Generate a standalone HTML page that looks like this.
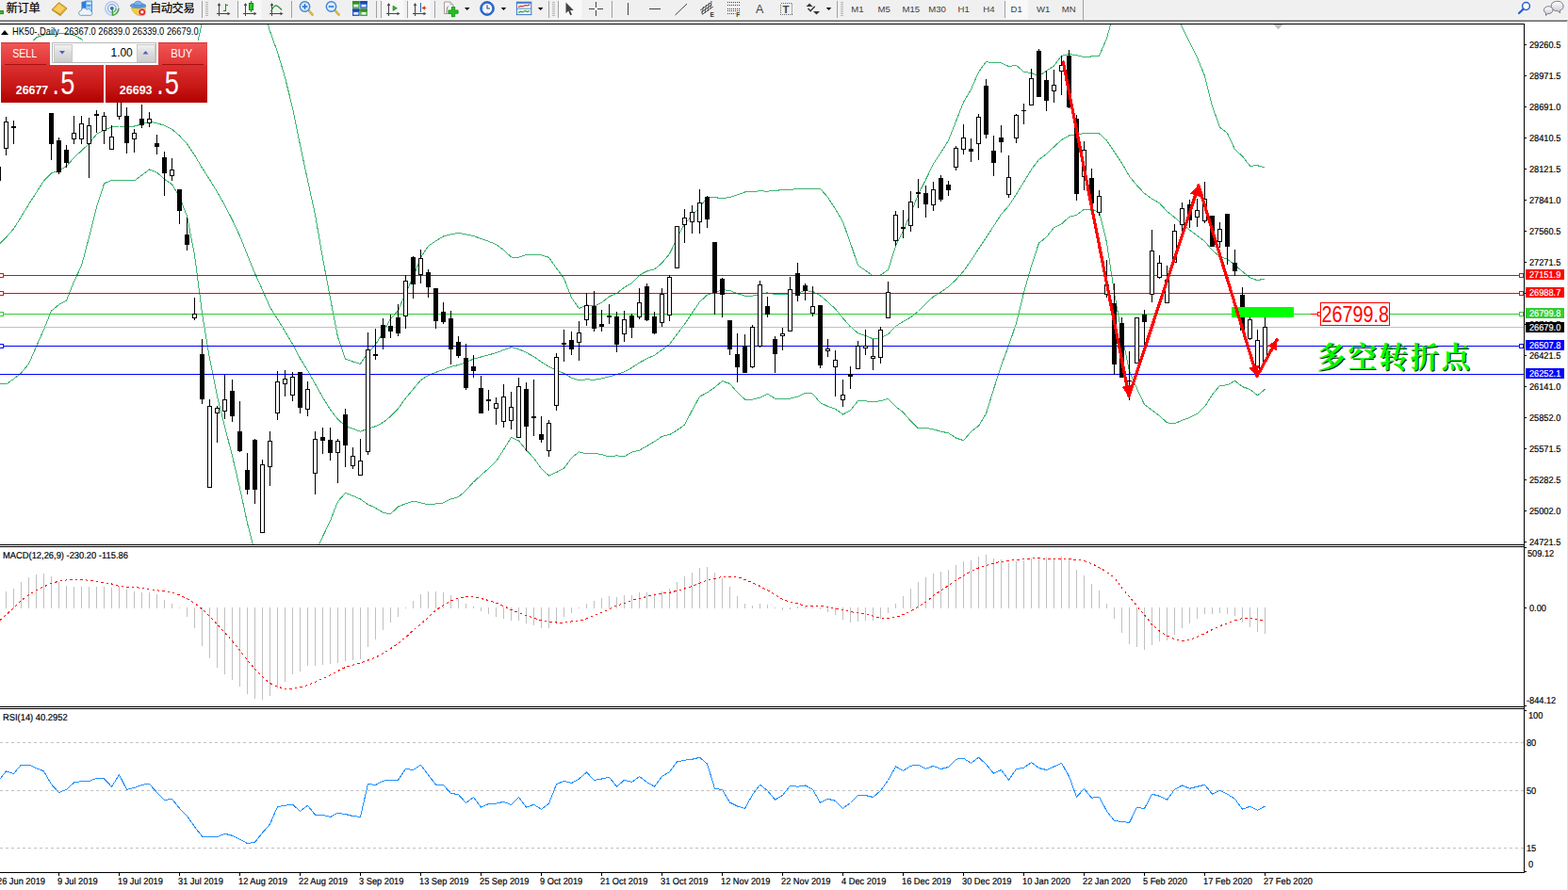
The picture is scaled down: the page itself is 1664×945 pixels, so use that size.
<!DOCTYPE html>
<html><head><meta charset="utf-8"><title>HK50 Daily</title>
<style>
html,body{margin:0;padding:0;background:#fff}
body{width:1664px;height:945px;overflow:hidden;position:relative;font-family:"Liberation Sans",sans-serif}
svg text{white-space:pre}
</style></head><body>
<svg width="1664" height="945" viewBox="0 0 1664 945" style="position:absolute;left:0;top:0" shape-rendering="crispEdges">
<defs><clipPath id="cm"><rect x="0" y="26" width="1617" height="552"/></clipPath><clipPath id="c2"><rect x="0" y="581" width="1617" height="169"/></clipPath><clipPath id="c3"><rect x="0" y="753" width="1617" height="173"/></clipPath></defs>
<g clip-path="url(#cm)">
<polyline fill="none" stroke="#3cb371" stroke-width="1" points="-1.5,100 6.5,92 14.5,78 22.5,57 30.5,47.5 38.5,40 46.5,37 54.5,36.2 62.5,36 70.5,35.6 78.5,37.2 86.5,41.6 94.5,50 102.5,62 110.5,81 118.5,78.75 126.5,76.75 134.5,76.5 142.5,76 150.5,78 158.5,78 166.5,78.49 174.5,76.07 182.5,78.96 190.5,79 198.5,76.11 206.5,58.92 214.5,23.91 222.5,0.9 230.5,-13.2 238.5,-17.12 246.5,-17.16 254.5,-16.95 262.5,-14.47 270.5,-5.87 278.5,6.75 286.5,33.18 294.5,55.39 302.5,82.29 310.5,114.66 318.5,153.91 326.5,191.49 334.5,228.05 342.5,274.25 350.5,316.63 358.5,358.02 366.5,381.02 374.5,384.02 382.5,386.31 390.5,374.41 398.5,366.11 406.5,352.75 414.5,338.66 422.5,329.86 430.5,310.88 438.5,294.44 446.5,273.25 454.5,261.25 462.5,255.87 470.5,250.99 478.5,248.83 486.5,247.39 494.5,248.85 502.5,250.43 510.5,253.54 518.5,256.21 526.5,259.6 534.5,265.56 542.5,272.99 550.5,273.22 558.5,270.62 566.5,270.93 574.5,270.95 582.5,273.28 590.5,284.87 598.5,295.57 606.5,316.14 614.5,327.51 622.5,323.79 630.5,325.18 638.5,321.31 646.5,314.91 654.5,311.5 662.5,305.14 670.5,300.66 678.5,292.21 686.5,287.95 694.5,285.8 702.5,279.31 710.5,269.58 718.5,253.08 726.5,237.55 734.5,229.02 742.5,220.1 750.5,209.6 758.5,209.66 766.5,210.57 774.5,209.54 782.5,206.81 790.5,203.99 798.5,203.98 806.5,202.66 814.5,203.3 822.5,202.07 830.5,201.94 838.5,201.29 846.5,200.69 854.5,200.18 862.5,200.59 870.5,200.33 878.5,209.55 886.5,221.91 894.5,235.48 902.5,258.11 910.5,281.76 918.5,287.21 926.5,292.97 934.5,292.04 942.5,286.48 950.5,261.3 958.5,244.75 966.5,226.63 974.5,206.21 982.5,190.69 990.5,173.9 998.5,162.06 1006.5,149.11 1014.5,128.91 1022.5,108.33 1030.5,94.89 1038.5,76.47 1046.5,65.53 1054.5,66.86 1062.5,66.7 1070.5,70.48 1078.5,69.41 1086.5,76.15 1094.5,77.58 1102.5,81.02 1110.5,75.19 1118.5,69.99 1126.5,59.35 1134.5,57.51 1142.5,58.69 1150.5,60.46 1158.5,59.95 1166.5,59.22 1174.5,40.82 1182.5,11.4 1190.5,-9.35 1198.5,-19.62 1206.5,-18.73 1214.5,-18.87 1222.5,-13.09 1230.5,-10.21 1238.5,0.11 1246.5,11.84 1254.5,29.3 1262.5,45.24 1270.5,61.01 1278.5,80.61 1286.5,112.52 1294.5,135.23 1302.5,141.36 1310.5,158.69 1318.5,165.86 1326.5,176.22 1334.5,175.66 1342.5,178.29"/>
<polyline fill="none" stroke="#3cb371" stroke-width="1" points="-1.5,260 6.5,252 14.5,243 22.5,230 30.5,217 38.5,204.5 46.5,192 54.5,184 62.5,181 70.5,176.5 78.5,167.5 86.5,160 94.5,152.5 102.5,142.5 110.5,138 118.5,135 126.5,134 134.5,134 142.5,134 150.5,132 158.5,129 166.5,130.8 174.5,133.2 182.5,137.3 190.5,144.05 198.5,152.8 206.5,164.7 214.5,178.25 222.5,190.7 230.5,203.75 238.5,217.9 246.5,233.4 254.5,250.65 262.5,270.5 270.5,290.3 278.5,307.7 286.5,326.1 294.5,338.8 302.5,351.85 310.5,365.25 318.5,380.55 326.5,393.45 334.5,407.6 342.5,421.95 350.5,434.8 358.5,445.25 366.5,452.2 374.5,455.25 382.5,458.15 390.5,455.05 398.5,452.7 406.5,448.55 414.5,442.2 422.5,433.9 430.5,422.85 438.5,413.25 446.5,403.55 454.5,398.5 462.5,395.4 470.5,392.45 478.5,389.35 486.5,387.55 494.5,384.8 502.5,381.1 510.5,379 518.5,376.85 526.5,374.65 534.5,371.5 542.5,368.65 550.5,370.6 558.5,374.35 566.5,378.6 574.5,384.35 582.5,389.15 590.5,393.2 598.5,396.4 606.5,401.2 614.5,403.65 622.5,402.85 630.5,403.2 638.5,402 646.5,399.95 654.5,397.65 662.5,394.95 670.5,390.4 678.5,385.2 686.5,380.75 694.5,377.35 702.5,371.35 710.5,365.55 718.5,354.95 726.5,344.35 734.5,332.3 742.5,320.6 750.5,313.25 758.5,310.5 766.5,307.6 774.5,308.45 782.5,311.7 790.5,314.05 798.5,314.1 806.5,312.4 814.5,310.8 822.5,312.6 830.5,312.95 838.5,312.25 846.5,310.95 854.5,308.7 862.5,309.35 870.5,314 878.5,320.5 886.5,328.05 894.5,337.75 902.5,346.95 910.5,353.7 918.5,356.55 926.5,359.85 934.5,358.85 942.5,354.9 950.5,346.55 958.5,341.3 966.5,336.9 974.5,330.5 982.5,322.55 990.5,314.9 998.5,310.1 1006.5,304.5 1014.5,296.95 1022.5,288 1030.5,276.65 1038.5,264.35 1046.5,252.35 1054.5,240 1062.5,227.55 1070.5,218.6 1078.5,206.35 1086.5,193.3 1094.5,179.95 1102.5,169.55 1110.5,163.45 1118.5,155.85 1126.5,148.6 1134.5,144 1142.5,143.45 1150.5,141.35 1158.5,141.55 1166.5,141.9 1174.5,149.15 1182.5,161.15 1190.5,173.15 1198.5,187.15 1206.5,196.9 1214.5,205.35 1222.5,211.15 1230.5,215.7 1238.5,224.45 1246.5,230.85 1254.5,237.75 1262.5,244.3 1270.5,250.15 1278.5,256.2 1286.5,265.8 1294.5,272.3 1302.5,275.1 1310.5,281.5 1318.5,288.25 1326.5,294.8 1334.5,297.75 1342.5,295.8"/>
<polyline fill="none" stroke="#3cb371" stroke-width="1" points="-1.5,407 6.5,408 14.5,402.5 22.5,396 30.5,386.5 38.5,368 46.5,350 54.5,330 62.5,323.5 70.5,319 78.5,299 86.5,282 94.5,252 102.5,220 110.5,195 118.5,191.25 126.5,191.25 134.5,191.5 142.5,192 150.5,186 158.5,180 166.5,183.11 174.5,190.33 182.5,195.64 190.5,209.1 198.5,229.49 206.5,270.48 214.5,332.59 222.5,380.5 230.5,420.7 238.5,452.92 246.5,483.96 254.5,518.25 262.5,555.47 270.5,586.47 278.5,608.65 286.5,619.02 294.5,622.21 302.5,621.41 310.5,615.84 318.5,607.19 326.5,595.41 334.5,587.15 342.5,569.65 350.5,552.97 358.5,532.48 366.5,523.38 374.5,526.48 382.5,529.99 390.5,535.69 398.5,539.29 406.5,544.35 414.5,545.74 422.5,537.94 430.5,534.82 438.5,532.06 446.5,533.85 454.5,535.75 462.5,534.93 470.5,533.91 478.5,529.87 486.5,527.71 494.5,520.75 502.5,511.77 510.5,504.46 518.5,497.49 526.5,489.7 534.5,477.44 542.5,464.31 550.5,467.98 558.5,478.08 566.5,486.27 574.5,497.75 582.5,505.02 590.5,501.53 598.5,497.23 606.5,486.26 614.5,479.79 622.5,481.91 630.5,481.22 638.5,482.69 646.5,484.99 654.5,483.8 662.5,484.76 670.5,480.14 678.5,478.19 686.5,473.55 694.5,468.9 702.5,463.39 710.5,461.52 718.5,456.82 726.5,451.15 734.5,435.58 742.5,421.1 750.5,416.9 758.5,411.34 766.5,404.63 774.5,407.36 782.5,416.59 790.5,424.11 798.5,424.22 806.5,422.14 814.5,418.3 822.5,423.13 830.5,423.96 838.5,423.21 846.5,421.21 854.5,417.22 862.5,418.11 870.5,427.67 878.5,431.45 886.5,434.19 894.5,440.02 902.5,435.79 910.5,425.64 918.5,425.89 926.5,426.73 934.5,425.66 942.5,423.32 950.5,431.8 958.5,437.85 966.5,447.17 974.5,454.79 982.5,454.41 990.5,455.9 998.5,458.14 1006.5,459.89 1014.5,464.99 1022.5,467.67 1030.5,458.41 1038.5,452.23 1046.5,439.17 1054.5,413.14 1062.5,388.4 1070.5,366.72 1078.5,343.29 1086.5,310.45 1094.5,282.32 1102.5,258.08 1110.5,251.71 1118.5,241.71 1126.5,237.85 1134.5,230.49 1142.5,228.21 1150.5,222.24 1158.5,223.15 1166.5,224.58 1174.5,257.48 1182.5,310.9 1190.5,355.65 1198.5,393.92 1206.5,412.53 1214.5,429.57 1222.5,435.39 1230.5,441.61 1238.5,448.79 1246.5,449.86 1254.5,446.2 1262.5,443.36 1270.5,439.29 1278.5,431.79 1286.5,419.08 1294.5,409.37 1302.5,408.84 1310.5,404.31 1318.5,410.64 1326.5,413.38 1334.5,419.84 1342.5,413.31"/>
<rect x="0" y="347" width="1617" height="1" fill="#c0c0c0"/>
<rect x="0" y="292" width="1617" height="1" fill="#ff0000"/>
<rect x="-0.5" y="290.5" width="4" height="4" fill="#fff" stroke="#ff0000" stroke-width="1"/>
<rect x="1612.5" y="290.5" width="4" height="4" fill="#fff" stroke="#ff0000" stroke-width="1"/>
<rect x="0" y="311" width="1617" height="1" fill="#ff0000"/>
<rect x="-0.5" y="309.5" width="4" height="4" fill="#fff" stroke="#ff0000" stroke-width="1"/>
<rect x="1612.5" y="309.5" width="4" height="4" fill="#fff" stroke="#ff0000" stroke-width="1"/>
<rect x="0" y="333" width="1617" height="1" fill="#32cd32"/>
<rect x="-0.5" y="331.5" width="4" height="4" fill="#fff" stroke="#32cd32" stroke-width="1"/>
<rect x="1612.5" y="331.5" width="4" height="4" fill="#fff" stroke="#32cd32" stroke-width="1"/>
<rect x="0" y="367" width="1617" height="1" fill="#0000ff"/>
<rect x="-0.5" y="365.5" width="4" height="4" fill="#fff" stroke="#0000ff" stroke-width="1"/>
<rect x="1612.5" y="365.5" width="4" height="4" fill="#fff" stroke="#0000ff" stroke-width="1"/>
<rect x="0" y="397" width="1617" height="1" fill="#0000ff"/>
<g fill="#000"><rect x="-2" y="177" width="1" height="15"/><rect x="-4" y="177" width="5" height="15"/><rect x="6" y="124" width="1" height="41"/><rect x="4" y="129" width="5" height="29"/><rect x="14" y="128" width="1" height="25"/><rect x="12" y="134" width="5" height="2"/><rect x="22" y="88" width="1" height="20"/><rect x="20" y="98" width="5" height="9"/><rect x="30" y="82" width="1" height="19"/><rect x="28" y="88" width="5" height="10"/><rect x="38" y="80" width="1" height="24"/><rect x="36" y="84" width="5" height="13"/><rect x="46" y="84" width="1" height="23"/><rect x="44" y="86" width="5" height="10"/><rect x="54" y="120" width="1" height="50"/><rect x="52" y="120" width="5" height="33"/><rect x="62" y="146" width="1" height="39"/><rect x="60" y="149" width="5" height="34"/><rect x="70" y="154" width="1" height="24"/><rect x="68" y="159" width="5" height="14"/><rect x="78" y="123" width="1" height="30"/><rect x="76" y="141" width="5" height="7"/><rect x="86" y="123" width="1" height="30"/><rect x="84" y="131" width="5" height="17"/><rect x="94" y="125" width="1" height="64"/><rect x="92" y="133" width="5" height="20"/><rect x="102" y="117" width="1" height="24"/><rect x="100" y="121" width="5" height="2"/><rect x="110" y="119" width="1" height="34"/><rect x="108" y="123" width="5" height="16"/><rect x="118" y="133" width="1" height="26"/><rect x="116" y="145" width="5" height="14"/><rect x="126" y="96" width="1" height="31"/><rect x="124" y="100" width="5" height="24"/><rect x="134" y="114" width="1" height="49"/><rect x="132" y="123" width="5" height="29"/><rect x="142" y="137" width="1" height="25"/><rect x="140" y="141" width="5" height="7"/><rect x="150" y="111" width="1" height="25"/><rect x="148" y="126" width="5" height="7"/><rect x="158" y="119" width="1" height="16"/><rect x="156" y="126" width="5" height="5"/><rect x="166" y="143" width="1" height="21"/><rect x="164" y="152" width="5" height="4"/><rect x="174" y="161" width="1" height="47"/><rect x="172" y="167" width="5" height="17"/><rect x="182" y="168" width="1" height="24"/><rect x="180" y="180" width="5" height="7"/><rect x="190" y="201" width="1" height="37"/><rect x="188" y="201" width="5" height="23"/><rect x="198" y="231" width="1" height="35"/><rect x="196" y="249" width="5" height="11"/><rect x="206" y="316" width="1" height="24"/><rect x="204" y="333" width="5" height="5"/><rect x="214" y="360" width="1" height="69"/><rect x="212" y="376" width="5" height="48"/><rect x="222" y="424" width="1" height="94"/><rect x="220" y="431" width="5" height="87"/><rect x="230" y="431" width="1" height="39"/><rect x="228" y="433" width="5" height="6"/><rect x="238" y="398" width="1" height="47"/><rect x="236" y="424" width="5" height="13"/><rect x="246" y="403" width="1" height="45"/><rect x="244" y="415" width="5" height="27"/><rect x="254" y="426" width="1" height="54"/><rect x="252" y="458" width="5" height="21"/><rect x="262" y="481" width="1" height="44"/><rect x="260" y="499" width="5" height="21"/><rect x="270" y="466" width="1" height="69"/><rect x="268" y="467" width="5" height="53"/><rect x="278" y="488" width="1" height="78"/><rect x="276" y="493" width="5" height="73"/><rect x="286" y="458" width="1" height="58"/><rect x="284" y="468" width="5" height="28"/><rect x="294" y="394" width="1" height="52"/><rect x="292" y="405" width="5" height="34"/><rect x="302" y="393" width="1" height="28"/><rect x="300" y="402" width="5" height="6"/><rect x="310" y="395" width="1" height="31"/><rect x="308" y="400" width="5" height="20"/><rect x="318" y="395" width="1" height="44"/><rect x="316" y="395" width="5" height="38"/><rect x="326" y="405" width="1" height="37"/><rect x="324" y="413" width="5" height="22"/><rect x="334" y="458" width="1" height="67"/><rect x="332" y="466" width="5" height="37"/><rect x="342" y="454" width="1" height="28"/><rect x="340" y="464" width="5" height="4"/><rect x="350" y="454" width="1" height="35"/><rect x="348" y="467" width="5" height="14"/><rect x="358" y="466" width="1" height="47"/><rect x="356" y="468" width="5" height="13"/><rect x="366" y="434" width="1" height="62"/><rect x="364" y="440" width="5" height="33"/><rect x="374" y="475" width="1" height="23"/><rect x="372" y="484" width="5" height="11"/><rect x="382" y="466" width="1" height="39"/><rect x="380" y="489" width="5" height="16"/><rect x="390" y="353" width="1" height="130"/><rect x="388" y="371" width="5" height="109"/><rect x="398" y="349" width="1" height="33"/><rect x="396" y="376" width="5" height="2"/><rect x="406" y="338" width="1" height="33"/><rect x="404" y="345" width="5" height="14"/><rect x="414" y="334" width="1" height="25"/><rect x="412" y="346" width="5" height="6"/><rect x="422" y="323" width="1" height="34"/><rect x="420" y="337" width="5" height="17"/><rect x="430" y="292" width="1" height="57"/><rect x="428" y="298" width="5" height="38"/><rect x="438" y="272" width="1" height="45"/><rect x="436" y="273" width="5" height="29"/><rect x="446" y="265" width="1" height="36"/><rect x="444" y="274" width="5" height="18"/><rect x="454" y="286" width="1" height="30"/><rect x="452" y="289" width="5" height="16"/><rect x="462" y="306" width="1" height="43"/><rect x="460" y="306" width="5" height="35"/><rect x="470" y="321" width="1" height="23"/><rect x="468" y="331" width="5" height="11"/><rect x="478" y="330" width="1" height="57"/><rect x="476" y="338" width="5" height="33"/><rect x="486" y="357" width="1" height="23"/><rect x="484" y="363" width="5" height="15"/><rect x="494" y="365" width="1" height="49"/><rect x="492" y="380" width="5" height="32"/><rect x="502" y="377" width="1" height="24"/><rect x="500" y="389" width="5" height="5"/><rect x="510" y="399" width="1" height="40"/><rect x="508" y="412" width="5" height="27"/><rect x="518" y="414" width="1" height="22"/><rect x="516" y="424" width="5" height="2"/><rect x="526" y="422" width="1" height="29"/><rect x="524" y="428" width="5" height="6"/><rect x="534" y="408" width="1" height="46"/><rect x="532" y="421" width="5" height="27"/><rect x="542" y="416" width="1" height="40"/><rect x="540" y="432" width="5" height="15"/><rect x="550" y="401" width="1" height="64"/><rect x="548" y="410" width="5" height="55"/><rect x="558" y="406" width="1" height="73"/><rect x="556" y="413" width="5" height="40"/><rect x="566" y="403" width="1" height="60"/><rect x="564" y="442" width="5" height="2"/><rect x="574" y="442" width="1" height="28"/><rect x="572" y="461" width="5" height="6"/><rect x="582" y="446" width="1" height="39"/><rect x="580" y="449" width="5" height="30"/><rect x="590" y="375" width="1" height="61"/><rect x="588" y="379" width="5" height="52"/><rect x="598" y="350" width="1" height="34"/><rect x="596" y="364" width="5" height="2"/><rect x="606" y="352" width="1" height="25"/><rect x="604" y="361" width="5" height="10"/><rect x="614" y="341" width="1" height="42"/><rect x="612" y="353" width="5" height="11"/><rect x="622" y="311" width="1" height="35"/><rect x="620" y="324" width="5" height="16"/><rect x="630" y="309" width="1" height="43"/><rect x="628" y="325" width="5" height="24"/><rect x="638" y="329" width="1" height="23"/><rect x="636" y="344" width="5" height="3"/><rect x="646" y="323" width="1" height="21"/><rect x="644" y="335" width="5" height="2"/><rect x="654" y="331" width="1" height="43"/><rect x="652" y="336" width="5" height="30"/><rect x="662" y="330" width="1" height="33"/><rect x="660" y="339" width="5" height="16"/><rect x="670" y="333" width="1" height="26"/><rect x="668" y="335" width="5" height="13"/><rect x="678" y="306" width="1" height="33"/><rect x="676" y="321" width="5" height="16"/><rect x="686" y="301" width="1" height="40"/><rect x="684" y="304" width="5" height="36"/><rect x="694" y="331" width="1" height="24"/><rect x="692" y="336" width="5" height="18"/><rect x="702" y="306" width="1" height="41"/><rect x="700" y="312" width="5" height="31"/><rect x="710" y="292" width="1" height="49"/><rect x="708" y="294" width="5" height="41"/><rect x="718" y="240" width="1" height="45"/><rect x="716" y="240" width="5" height="45"/><rect x="726" y="222" width="1" height="36"/><rect x="724" y="231" width="5" height="8"/><rect x="734" y="218" width="1" height="30"/><rect x="732" y="225" width="5" height="11"/><rect x="742" y="201" width="1" height="47"/><rect x="740" y="215" width="5" height="21"/><rect x="750" y="208" width="1" height="34"/><rect x="748" y="209" width="5" height="24"/><rect x="758" y="257" width="1" height="77"/><rect x="756" y="257" width="5" height="54"/><rect x="766" y="295" width="1" height="42"/><rect x="764" y="296" width="5" height="17"/><rect x="774" y="340" width="1" height="37"/><rect x="772" y="340" width="5" height="31"/><rect x="782" y="354" width="1" height="52"/><rect x="780" y="376" width="5" height="14"/><rect x="790" y="355" width="1" height="41"/><rect x="788" y="367" width="5" height="29"/><rect x="798" y="345" width="1" height="46"/><rect x="796" y="347" width="5" height="43"/><rect x="806" y="298" width="1" height="71"/><rect x="804" y="302" width="5" height="66"/><rect x="814" y="315" width="1" height="22"/><rect x="812" y="325" width="5" height="9"/><rect x="822" y="357" width="1" height="39"/><rect x="820" y="360" width="5" height="16"/><rect x="830" y="348" width="1" height="24"/><rect x="828" y="354" width="5" height="3"/><rect x="838" y="294" width="1" height="58"/><rect x="836" y="307" width="5" height="45"/><rect x="846" y="279" width="1" height="41"/><rect x="844" y="290" width="5" height="24"/><rect x="854" y="301" width="1" height="18"/><rect x="852" y="303" width="5" height="6"/><rect x="862" y="304" width="1" height="32"/><rect x="860" y="325" width="5" height="8"/><rect x="870" y="324" width="1" height="67"/><rect x="868" y="324" width="5" height="64"/><rect x="878" y="360" width="1" height="19"/><rect x="876" y="370" width="5" height="3"/><rect x="886" y="372" width="1" height="49"/><rect x="884" y="382" width="5" height="8"/><rect x="894" y="403" width="1" height="29"/><rect x="892" y="419" width="5" height="6"/><rect x="902" y="389" width="1" height="24"/><rect x="900" y="397" width="5" height="3"/><rect x="910" y="362" width="1" height="30"/><rect x="908" y="367" width="5" height="25"/><rect x="918" y="350" width="1" height="27"/><rect x="916" y="367" width="5" height="3"/><rect x="926" y="360" width="1" height="33"/><rect x="924" y="378" width="5" height="3"/><rect x="934" y="347" width="1" height="39"/><rect x="932" y="350" width="5" height="30"/><rect x="942" y="299" width="1" height="39"/><rect x="940" y="310" width="5" height="28"/><rect x="950" y="224" width="1" height="37"/><rect x="948" y="228" width="5" height="28"/><rect x="958" y="223" width="1" height="30"/><rect x="956" y="241" width="5" height="2"/><rect x="966" y="203" width="1" height="43"/><rect x="964" y="214" width="5" height="26"/><rect x="974" y="190" width="1" height="31"/><rect x="972" y="204" width="5" height="2"/><rect x="982" y="197" width="1" height="34"/><rect x="980" y="205" width="5" height="12"/><rect x="990" y="193" width="1" height="31"/><rect x="988" y="201" width="5" height="17"/><rect x="998" y="186" width="1" height="28"/><rect x="996" y="189" width="5" height="23"/><rect x="1006" y="192" width="1" height="16"/><rect x="1004" y="196" width="5" height="6"/><rect x="1014" y="155" width="1" height="26"/><rect x="1012" y="157" width="5" height="21"/><rect x="1022" y="132" width="1" height="32"/><rect x="1020" y="146" width="5" height="13"/><rect x="1030" y="147" width="1" height="25"/><rect x="1028" y="158" width="5" height="3"/><rect x="1038" y="121" width="1" height="49"/><rect x="1036" y="124" width="5" height="29"/><rect x="1046" y="84" width="1" height="63"/><rect x="1044" y="91" width="5" height="52"/><rect x="1054" y="144" width="1" height="43"/><rect x="1052" y="160" width="5" height="13"/><rect x="1062" y="133" width="1" height="29"/><rect x="1060" y="146" width="5" height="5"/><rect x="1070" y="165" width="1" height="45"/><rect x="1068" y="188" width="5" height="19"/><rect x="1078" y="121" width="1" height="31"/><rect x="1076" y="122" width="5" height="25"/><rect x="1086" y="110" width="1" height="22"/><rect x="1084" y="117" width="5" height="1"/><rect x="1094" y="73" width="1" height="39"/><rect x="1092" y="83" width="5" height="29"/><rect x="1102" y="52" width="1" height="51"/><rect x="1100" y="54" width="5" height="49"/><rect x="1110" y="75" width="1" height="43"/><rect x="1108" y="85" width="5" height="22"/><rect x="1118" y="74" width="1" height="35"/><rect x="1116" y="90" width="5" height="7"/><rect x="1126" y="59" width="1" height="42"/><rect x="1124" y="69" width="5" height="7"/><rect x="1134" y="53" width="1" height="62"/><rect x="1132" y="59" width="5" height="55"/><rect x="1142" y="122" width="1" height="91"/><rect x="1140" y="126" width="5" height="80"/><rect x="1150" y="150" width="1" height="52"/><rect x="1148" y="159" width="5" height="29"/><rect x="1158" y="179" width="1" height="37"/><rect x="1156" y="189" width="5" height="27"/><rect x="1166" y="202" width="1" height="27"/><rect x="1164" y="208" width="5" height="18"/><rect x="1174" y="276" width="1" height="40"/><rect x="1172" y="302" width="5" height="11"/><rect x="1182" y="301" width="1" height="97"/><rect x="1180" y="322" width="5" height="65"/><rect x="1190" y="337" width="1" height="64"/><rect x="1188" y="343" width="5" height="58"/><rect x="1198" y="373" width="1" height="52"/><rect x="1196" y="404" width="5" height="1"/><rect x="1206" y="337" width="1" height="49"/><rect x="1204" y="337" width="5" height="49"/><rect x="1214" y="329" width="1" height="39"/><rect x="1212" y="334" width="5" height="8"/><rect x="1222" y="244" width="1" height="77"/><rect x="1220" y="266" width="5" height="47"/><rect x="1230" y="271" width="1" height="25"/><rect x="1228" y="279" width="5" height="16"/><rect x="1238" y="282" width="1" height="40"/><rect x="1236" y="297" width="5" height="25"/><rect x="1246" y="238" width="1" height="41"/><rect x="1244" y="245" width="5" height="34"/><rect x="1254" y="215" width="1" height="31"/><rect x="1252" y="221" width="5" height="18"/><rect x="1262" y="212" width="1" height="30"/><rect x="1260" y="217" width="5" height="17"/><rect x="1270" y="211" width="1" height="30"/><rect x="1268" y="223" width="5" height="8"/><rect x="1278" y="193" width="1" height="44"/><rect x="1276" y="211" width="5" height="24"/><rect x="1286" y="229" width="1" height="33"/><rect x="1284" y="229" width="5" height="33"/><rect x="1294" y="236" width="1" height="27"/><rect x="1292" y="243" width="5" height="14"/><rect x="1302" y="227" width="1" height="54"/><rect x="1300" y="227" width="5" height="35"/><rect x="1310" y="265" width="1" height="28"/><rect x="1308" y="279" width="5" height="9"/><rect x="1318" y="305" width="1" height="46"/><rect x="1316" y="313" width="5" height="38"/><rect x="1326" y="337" width="1" height="24"/><rect x="1324" y="339" width="5" height="21"/><rect x="1334" y="350" width="1" height="48"/><rect x="1332" y="361" width="5" height="37"/><rect x="1342" y="328" width="1" height="59"/><rect x="1340" y="347" width="5" height="37"/></g>
<g fill="#fff"><rect x="5" y="130" width="3" height="27"/><rect x="21" y="99" width="3" height="7"/><rect x="29" y="89" width="3" height="8"/><rect x="37" y="85" width="3" height="11"/><rect x="77" y="142" width="3" height="5"/><rect x="85" y="132" width="3" height="15"/><rect x="93" y="134" width="3" height="18"/><rect x="109" y="124" width="3" height="14"/><rect x="117" y="146" width="3" height="12"/><rect x="125" y="101" width="3" height="22"/><rect x="141" y="142" width="3" height="5"/><rect x="157" y="127" width="3" height="3"/><rect x="181" y="181" width="3" height="5"/><rect x="205" y="334" width="3" height="3"/><rect x="221" y="432" width="3" height="85"/><rect x="229" y="434" width="3" height="4"/><rect x="237" y="425" width="3" height="11"/><rect x="277" y="494" width="3" height="71"/><rect x="285" y="469" width="3" height="26"/><rect x="293" y="406" width="3" height="32"/><rect x="301" y="403" width="3" height="4"/><rect x="309" y="401" width="3" height="18"/><rect x="325" y="414" width="3" height="20"/><rect x="333" y="467" width="3" height="35"/><rect x="357" y="469" width="3" height="11"/><rect x="373" y="485" width="3" height="9"/><rect x="381" y="490" width="3" height="14"/><rect x="389" y="372" width="3" height="107"/><rect x="429" y="299" width="3" height="36"/><rect x="445" y="275" width="3" height="16"/><rect x="525" y="429" width="3" height="4"/><rect x="533" y="422" width="3" height="25"/><rect x="541" y="433" width="3" height="13"/><rect x="549" y="411" width="3" height="53"/><rect x="581" y="450" width="3" height="28"/><rect x="589" y="380" width="3" height="50"/><rect x="613" y="354" width="3" height="9"/><rect x="621" y="325" width="3" height="14"/><rect x="661" y="340" width="3" height="14"/><rect x="677" y="322" width="3" height="14"/><rect x="701" y="313" width="3" height="29"/><rect x="709" y="295" width="3" height="39"/><rect x="717" y="241" width="3" height="43"/><rect x="725" y="232" width="3" height="6"/><rect x="733" y="226" width="3" height="9"/><rect x="741" y="216" width="3" height="19"/><rect x="797" y="348" width="3" height="41"/><rect x="805" y="303" width="3" height="64"/><rect x="829" y="355" width="3" height="1"/><rect x="837" y="308" width="3" height="43"/><rect x="861" y="326" width="3" height="6"/><rect x="877" y="371" width="3" height="1"/><rect x="885" y="383" width="3" height="6"/><rect x="893" y="420" width="3" height="4"/><rect x="909" y="368" width="3" height="23"/><rect x="917" y="368" width="3" height="1"/><rect x="925" y="379" width="3" height="1"/><rect x="933" y="351" width="3" height="28"/><rect x="941" y="311" width="3" height="26"/><rect x="949" y="229" width="3" height="26"/><rect x="965" y="215" width="3" height="24"/><rect x="989" y="202" width="3" height="15"/><rect x="1013" y="158" width="3" height="19"/><rect x="1021" y="147" width="3" height="11"/><rect x="1037" y="125" width="3" height="27"/><rect x="1069" y="189" width="3" height="17"/><rect x="1077" y="123" width="3" height="23"/><rect x="1093" y="84" width="3" height="27"/><rect x="1117" y="91" width="3" height="5"/><rect x="1125" y="70" width="3" height="5"/><rect x="1149" y="160" width="3" height="27"/><rect x="1165" y="209" width="3" height="16"/><rect x="1173" y="303" width="3" height="9"/><rect x="1205" y="338" width="3" height="47"/><rect x="1221" y="267" width="3" height="45"/><rect x="1229" y="280" width="3" height="14"/><rect x="1237" y="298" width="3" height="23"/><rect x="1245" y="246" width="3" height="32"/><rect x="1253" y="222" width="3" height="16"/><rect x="1269" y="224" width="3" height="6"/><rect x="1277" y="212" width="3" height="22"/><rect x="1293" y="244" width="3" height="12"/><rect x="1325" y="340" width="3" height="19"/><rect x="1333" y="362" width="3" height="35"/><rect x="1341" y="348" width="3" height="35"/></g>
<rect x="1307" y="326" width="66" height="11" fill="#00ff00"/>
<polyline fill="none" stroke="#ff0000" stroke-width="3.2" stroke-linejoin="round" stroke-linecap="round" points="1128.3,66 1198,420.5 1272,197 1334,399.5 1355,361"/>
<polygon fill="#ff0000" points="1198.1,420.99 1190.48,410.77 1201.27,408.65"/>
<polygon fill="#ff0000" points="1272.16,196.53 1273.76,209.17 1263.32,205.71"/>
<polygon fill="#ff0000" points="1334.15,399.98 1325.52,390.59 1336.04,387.37"/>
<polygon fill="#ff0000" points="1355.24,360.56 1355.04,372.41 1345.38,367.15"/>
<rect x="1391" y="333" width="8" height="1" fill="#ff0000"/>
<rect x="1398.5" y="331.5" width="3" height="4" fill="#fff" stroke="#ff0000"/>
<rect x="1401.5" y="321.5" width="73" height="24" fill="#fff" stroke="#ff0000" stroke-width="1"/>
</g>
<g clip-path="url(#c2)">
<g fill="#c0c0c0"><rect x="6" y="628" width="1" height="18"/><rect x="14" y="625" width="1" height="21"/><rect x="22" y="618" width="1" height="28"/><rect x="30" y="613" width="1" height="33"/><rect x="38" y="610" width="1" height="36"/><rect x="46" y="609" width="1" height="37"/><rect x="54" y="612" width="1" height="34"/><rect x="62" y="618" width="1" height="28"/><rect x="70" y="622" width="1" height="24"/><rect x="78" y="623" width="1" height="23"/><rect x="86" y="623" width="1" height="23"/><rect x="94" y="623" width="1" height="23"/><rect x="102" y="623" width="1" height="23"/><rect x="110" y="623" width="1" height="23"/><rect x="118" y="624" width="1" height="22"/><rect x="126" y="623" width="1" height="23"/><rect x="134" y="626" width="1" height="20"/><rect x="142" y="628" width="1" height="18"/><rect x="150" y="629" width="1" height="17"/><rect x="158" y="629" width="1" height="17"/><rect x="166" y="631" width="1" height="15"/><rect x="174" y="637" width="1" height="9"/><rect x="182" y="641" width="1" height="5"/><rect x="190" y="645" width="1" height="1"/><rect x="198" y="645" width="1" height="10"/><rect x="206" y="645" width="1" height="22"/><rect x="214" y="645" width="1" height="41"/><rect x="222" y="645" width="1" height="54"/><rect x="230" y="645" width="1" height="64"/><rect x="238" y="645" width="1" height="71"/><rect x="246" y="645" width="1" height="77"/><rect x="254" y="645" width="1" height="84"/><rect x="262" y="645" width="1" height="92"/><rect x="270" y="645" width="1" height="97"/><rect x="278" y="645" width="1" height="98"/><rect x="286" y="645" width="1" height="94"/><rect x="294" y="645" width="1" height="86"/><rect x="302" y="645" width="1" height="79"/><rect x="310" y="645" width="1" height="71"/><rect x="318" y="645" width="1" height="68"/><rect x="326" y="645" width="1" height="62"/><rect x="334" y="645" width="1" height="62"/><rect x="342" y="645" width="1" height="61"/><rect x="350" y="645" width="1" height="60"/><rect x="358" y="645" width="1" height="59"/><rect x="366" y="645" width="1" height="57"/><rect x="374" y="645" width="1" height="56"/><rect x="382" y="645" width="1" height="55"/><rect x="390" y="645" width="1" height="42"/><rect x="398" y="645" width="1" height="34"/><rect x="406" y="645" width="1" height="24"/><rect x="414" y="645" width="1" height="16"/><rect x="422" y="645" width="1" height="10"/><rect x="430" y="645" width="1" height="1"/><rect x="438" y="638" width="1" height="8"/><rect x="446" y="631" width="1" height="15"/><rect x="454" y="628" width="1" height="18"/><rect x="462" y="628" width="1" height="18"/><rect x="470" y="629" width="1" height="17"/><rect x="478" y="632" width="1" height="14"/><rect x="486" y="636" width="1" height="10"/><rect x="494" y="641" width="1" height="5"/><rect x="502" y="644" width="1" height="2"/><rect x="510" y="645" width="1" height="4"/><rect x="518" y="645" width="1" height="7"/><rect x="526" y="645" width="1" height="10"/><rect x="534" y="645" width="1" height="12"/><rect x="542" y="645" width="1" height="14"/><rect x="550" y="645" width="1" height="14"/><rect x="558" y="645" width="1" height="17"/><rect x="566" y="645" width="1" height="19"/><rect x="574" y="645" width="1" height="22"/><rect x="582" y="645" width="1" height="22"/><rect x="590" y="645" width="1" height="17"/><rect x="598" y="645" width="1" height="10"/><rect x="606" y="645" width="1" height="6"/><rect x="614" y="645" width="1" height="1"/><rect x="622" y="641" width="1" height="5"/><rect x="630" y="638" width="1" height="8"/><rect x="638" y="635" width="1" height="11"/><rect x="646" y="633" width="1" height="13"/><rect x="654" y="634" width="1" height="12"/><rect x="662" y="632" width="1" height="14"/><rect x="670" y="632" width="1" height="14"/><rect x="678" y="629" width="1" height="17"/><rect x="686" y="629" width="1" height="17"/><rect x="694" y="630" width="1" height="16"/><rect x="702" y="628" width="1" height="18"/><rect x="710" y="625" width="1" height="21"/><rect x="718" y="618" width="1" height="28"/><rect x="726" y="612" width="1" height="34"/><rect x="734" y="608" width="1" height="38"/><rect x="742" y="603" width="1" height="43"/><rect x="750" y="602" width="1" height="44"/><rect x="758" y="608" width="1" height="38"/><rect x="766" y="614" width="1" height="32"/><rect x="774" y="623" width="1" height="23"/><rect x="782" y="633" width="1" height="13"/><rect x="790" y="641" width="1" height="5"/><rect x="798" y="643" width="1" height="3"/><rect x="806" y="641" width="1" height="5"/><rect x="814" y="642" width="1" height="4"/><rect x="822" y="645" width="1" height="1"/><rect x="830" y="645" width="1" height="3"/><rect x="838" y="645" width="1" height="2"/><rect x="846" y="644" width="1" height="2"/><rect x="854" y="643" width="1" height="3"/><rect x="862" y="643" width="1" height="3"/><rect x="870" y="645" width="1" height="2"/><rect x="878" y="645" width="1" height="5"/><rect x="886" y="645" width="1" height="8"/><rect x="894" y="645" width="1" height="13"/><rect x="902" y="645" width="1" height="16"/><rect x="910" y="645" width="1" height="15"/><rect x="918" y="645" width="1" height="14"/><rect x="926" y="645" width="1" height="14"/><rect x="934" y="645" width="1" height="12"/><rect x="942" y="645" width="1" height="6"/><rect x="950" y="641" width="1" height="5"/><rect x="958" y="633" width="1" height="13"/><rect x="966" y="625" width="1" height="21"/><rect x="974" y="618" width="1" height="28"/><rect x="982" y="613" width="1" height="33"/><rect x="990" y="609" width="1" height="37"/><rect x="998" y="607" width="1" height="39"/><rect x="1006" y="605" width="1" height="41"/><rect x="1014" y="600" width="1" height="46"/><rect x="1022" y="596" width="1" height="50"/><rect x="1030" y="595" width="1" height="51"/><rect x="1038" y="591" width="1" height="55"/><rect x="1046" y="589" width="1" height="57"/><rect x="1054" y="593" width="1" height="53"/><rect x="1062" y="594" width="1" height="52"/><rect x="1070" y="598" width="1" height="48"/><rect x="1078" y="596" width="1" height="50"/><rect x="1086" y="595" width="1" height="51"/><rect x="1094" y="593" width="1" height="53"/><rect x="1102" y="592" width="1" height="54"/><rect x="1110" y="592" width="1" height="54"/><rect x="1118" y="592" width="1" height="54"/><rect x="1126" y="591" width="1" height="55"/><rect x="1134" y="594" width="1" height="52"/><rect x="1142" y="605" width="1" height="41"/><rect x="1150" y="611" width="1" height="35"/><rect x="1158" y="620" width="1" height="26"/><rect x="1166" y="627" width="1" height="19"/><rect x="1174" y="641" width="1" height="5"/><rect x="1182" y="645" width="1" height="12"/><rect x="1190" y="645" width="1" height="27"/><rect x="1198" y="645" width="1" height="39"/><rect x="1206" y="645" width="1" height="42"/><rect x="1214" y="645" width="1" height="45"/><rect x="1222" y="645" width="1" height="40"/><rect x="1230" y="645" width="1" height="36"/><rect x="1238" y="645" width="1" height="35"/><rect x="1246" y="645" width="1" height="29"/><rect x="1254" y="645" width="1" height="22"/><rect x="1262" y="645" width="1" height="17"/><rect x="1270" y="645" width="1" height="12"/><rect x="1278" y="645" width="1" height="7"/><rect x="1286" y="645" width="1" height="7"/><rect x="1294" y="645" width="1" height="6"/><rect x="1302" y="645" width="1" height="7"/><rect x="1310" y="645" width="1" height="9"/><rect x="1318" y="645" width="1" height="16"/><rect x="1326" y="645" width="1" height="21"/><rect x="1334" y="645" width="1" height="26"/><rect x="1342" y="645" width="1" height="28"/></g>
<polyline fill="none" stroke="#ff0000" stroke-width="1" stroke-dasharray="2.5,3" points="0,658.5 6.5,653 14.5,645.5 22.5,637.5 30.5,631.75 38.5,626.75 46.5,623 54.5,619.25 62.5,617.25 70.5,616 78.5,615.5 86.5,615.5 94.5,616.25 102.5,617.5 110.5,618.75 118.5,620 126.5,622.5 134.5,623.5 142.5,623.75 150.5,624.25 158.5,625.5 166.5,626.75 174.5,628 182.5,629.25 190.5,631.75 198.5,635.5 206.5,640.5 214.5,646.75 222.5,654.25 230.5,663 238.5,671.75 246.5,680.5 254.5,690.5 262.5,701 270.5,710.5 278.5,718.5 286.5,725.5 294.5,729.25 302.5,731.25 310.5,731.25 318.5,729.75 326.5,727.5 334.5,724.25 342.5,720.5 350.5,716.75 358.5,712.5 366.5,708.5 374.5,706.25 382.5,703.75 390.5,701 398.5,698 406.5,693.75 414.5,688.75 422.5,683 430.5,676.75 438.5,669.25 446.5,662.5 454.5,655.5 462.5,648 470.5,642.5 478.5,638 486.5,635 494.5,633.5 502.5,633.5 510.5,635.5 518.5,637.5 526.5,640 534.5,643.5 542.5,647.5 550.5,650.5 558.5,653.5 566.5,656.25 574.5,658.75 582.5,660.5 590.5,661 598.5,661 606.5,660 614.5,659.25 622.5,656.75 630.5,653.75 638.5,650.5 646.5,646.75 654.5,643 662.5,640.5 670.5,637.5 678.5,635.5 686.5,633.5 694.5,631.25 702.5,630 710.5,629.25 718.5,627.25 726.5,625 734.5,622.5 742.5,619.25 750.5,616 758.5,614.25 766.5,612.5 774.5,612.25 782.5,612.5 790.5,615.5 798.5,618.75 806.5,622.5 814.5,626.75 822.5,631.25 830.5,636.25 838.5,639.25 846.5,641 854.5,643.5 862.5,643.5 870.5,643.5 878.5,644.25 886.5,646 894.5,647.5 902.5,649.75 910.5,650.5 918.5,651.75 926.5,654.25 934.5,656 942.5,656.25 950.5,655.5 958.5,652.5 966.5,648.75 974.5,644.25 982.5,639.25 990.5,632.5 998.5,626.75 1006.5,621.75 1014.5,616 1022.5,611.25 1030.5,606.75 1038.5,603 1046.5,600.5 1054.5,598 1062.5,596.25 1070.5,595.5 1078.5,594.5 1086.5,593.5 1094.5,593 1102.5,592.5 1110.5,593.5 1118.5,593.5 1126.5,593.5 1134.5,593.5 1142.5,594.5 1150.5,595.5 1158.5,598.5 1166.5,602.5 1174.5,607.5 1182.5,613 1190.5,624.25 1198.5,633.5 1206.5,643.5 1214.5,653 1222.5,663 1230.5,670 1238.5,675 1246.5,678.75 1254.5,680.5 1262.5,679.25 1270.5,676.25 1278.5,672.5 1286.5,668.5 1294.5,664.75 1302.5,661.75 1310.5,658.5 1318.5,656.75 1326.5,656.75 1334.5,657.5 1340.5,658.5"/>
</g>
<g clip-path="url(#c3)">
<line x1="0" y1="788.5" x2="1617" y2="788.5" stroke="#c0c0c0" stroke-width="1" stroke-dasharray="3,3"/>
<line x1="0" y1="839.5" x2="1617" y2="839.5" stroke="#c0c0c0" stroke-width="1" stroke-dasharray="3,3"/>
<line x1="0" y1="900.5" x2="1617" y2="900.5" stroke="#c0c0c0" stroke-width="1" stroke-dasharray="3,3"/>
<polyline fill="none" stroke="#1e90ff" stroke-width="1" points="0,827 6.5,819 14.5,821.5 22.5,812 30.5,812 38.5,815.75 46.5,818.75 54.5,832.75 62.5,841.5 70.5,838.25 78.5,831 86.5,829.5 94.5,829.5 102.5,826.25 110.5,827 118.5,835.25 126.5,822.75 134.5,838.25 142.5,836.5 150.5,833.25 158.5,832.5 166.5,841.25 174.5,849.5 182.5,848.25 190.5,858.25 198.5,866.5 206.5,877.75 214.5,888.25 222.5,888.5 230.5,888.5 238.5,885.25 246.5,887.25 254.5,891.25 262.5,895.5 270.5,894.25 278.5,884.25 286.5,875 294.5,856.5 302.5,855.25 310.5,854.25 318.5,861.25 326.5,855.25 334.5,865.25 342.5,865.25 350.5,867.5 358.5,863.25 366.5,864.5 374.5,866.5 382.5,867.5 390.5,832.25 398.5,833.5 406.5,829.25 414.5,828.25 422.5,828.25 430.5,816.25 438.5,817.5 446.5,812.25 454.5,822.75 462.5,833.25 470.5,833.5 478.5,842.25 486.5,843.75 494.5,852.5 502.5,846.5 510.5,857.25 518.5,853.5 526.5,853.25 534.5,851.25 542.5,854.5 550.5,846.5 558.5,857.25 566.5,854.25 574.5,859.25 582.5,853.25 590.5,832.75 598.5,829.25 606.5,831.5 614.5,827 622.5,820 630.5,828.5 638.5,827 646.5,825.25 654.5,835.25 662.5,828.25 670.5,830.5 678.5,824.5 686.5,830.5 694.5,835.25 702.5,824.5 710.5,819.5 718.5,809 726.5,807.25 734.5,806.25 742.5,804.25 750.5,811 758.5,837.25 766.5,838.5 774.5,852 782.5,856 790.5,858.5 798.5,844 806.5,833.25 814.5,839.5 822.5,849.25 830.5,844.5 838.5,834.25 846.5,835.25 854.5,834 862.5,838.25 870.5,852.25 878.5,848.25 886.5,850.25 894.5,858.25 902.5,852.5 910.5,844.5 918.5,844.5 926.5,846.5 934.5,839.5 942.5,828.5 950.5,814 958.5,818.25 966.5,813.25 974.5,812.25 982.5,816.25 990.5,813.25 998.5,816.5 1006.5,814.5 1014.5,806.25 1022.5,805.25 1030.5,810.25 1038.5,804.25 1046.5,811.5 1054.5,821.25 1062.5,817.5 1070.5,828.25 1078.5,816.5 1086.5,815.25 1094.5,809.5 1102.5,815.5 1110.5,817.5 1118.5,814 1126.5,810.25 1134.5,824.25 1142.5,846.25 1150.5,837.5 1158.5,847.25 1166.5,846.25 1174.5,861.25 1182.5,871.5 1190.5,872.5 1198.5,873.5 1206.5,857.25 1214.5,858.5 1222.5,843.25 1230.5,845.25 1238.5,849.25 1246.5,838.25 1254.5,834 1262.5,837.25 1270.5,835.25 1278.5,833.25 1286.5,843.25 1294.5,839.25 1302.5,843.25 1310.5,848.25 1318.5,859.25 1326.5,856.25 1334.5,860.25 1342.5,856"/>
</g>
<rect x="0" y="579" width="1617" height="1" fill="#fff"/><rect x="0" y="751" width="1617" height="1" fill="#fff"/>
<g fill="#000"><rect x="0" y="25" width="1618" height="1"/><rect x="1617" y="25" width="1" height="902"/><rect x="0" y="578" width="1618" height="1"/><rect x="0" y="580" width="1618" height="1"/><rect x="0" y="750" width="1618" height="1"/><rect x="0" y="752" width="1618" height="1"/><rect x="0" y="926" width="1618" height="1"/><rect x="1618" y="47" width="2" height="1"/><rect x="1618" y="80" width="2" height="1"/><rect x="1618" y="113" width="2" height="1"/><rect x="1618" y="146" width="2" height="1"/><rect x="1618" y="179" width="2" height="1"/><rect x="1618" y="212" width="2" height="1"/><rect x="1618" y="245" width="2" height="1"/><rect x="1618" y="278" width="2" height="1"/><rect x="1618" y="311" width="2" height="1"/><rect x="1618" y="344" width="2" height="1"/><rect x="1618" y="377" width="2" height="1"/><rect x="1618" y="410" width="2" height="1"/><rect x="1618" y="443" width="2" height="1"/><rect x="1618" y="476" width="2" height="1"/><rect x="1618" y="509" width="2" height="1"/><rect x="1618" y="542" width="2" height="1"/><rect x="1618" y="575" width="2" height="1"/><rect x="1618" y="581" width="2" height="1"/><rect x="1618" y="645" width="2" height="1"/><rect x="1618" y="749" width="2" height="1"/><rect x="1618" y="754" width="2" height="1"/><rect x="1618" y="925" width="2" height="1"/><rect x="-2" y="927" width="1" height="3"/><rect x="62" y="927" width="1" height="3"/><rect x="126" y="927" width="1" height="3"/><rect x="190" y="927" width="1" height="3"/><rect x="254" y="927" width="1" height="3"/><rect x="318" y="927" width="1" height="3"/><rect x="382" y="927" width="1" height="3"/><rect x="446" y="927" width="1" height="3"/><rect x="510" y="927" width="1" height="3"/><rect x="574" y="927" width="1" height="3"/><rect x="638" y="927" width="1" height="3"/><rect x="702" y="927" width="1" height="3"/><rect x="766" y="927" width="1" height="3"/><rect x="830" y="927" width="1" height="3"/><rect x="894" y="927" width="1" height="3"/><rect x="958" y="927" width="1" height="3"/><rect x="1022" y="927" width="1" height="3"/><rect x="1086" y="927" width="1" height="3"/><rect x="1150" y="927" width="1" height="3"/><rect x="1214" y="927" width="1" height="3"/><rect x="1278" y="927" width="1" height="3"/><rect x="1342" y="927" width="1" height="3"/></g>
<polygon points="1351.5,26 1361.5,26 1356.5,31.2" fill="#c0c0c0" shape-rendering="auto"/>
<g shape-rendering="auto" text-rendering="geometricPrecision" font-family="Liberation Sans, sans-serif" font-size="10px" fill="#000" stroke="#000" stroke-width="0.2">
<text transform="translate(1623,51) scale(0.92,1)" >29260.5</text>
<text transform="translate(1623,84) scale(0.92,1)" >28971.5</text>
<text transform="translate(1623,117) scale(0.92,1)" >28691.0</text>
<text transform="translate(1623,150) scale(0.92,1)" >28410.5</text>
<text transform="translate(1623,183) scale(0.92,1)" >28121.5</text>
<text transform="translate(1623,216) scale(0.92,1)" >27841.0</text>
<text transform="translate(1623,249) scale(0.92,1)" >27560.5</text>
<text transform="translate(1623,282) scale(0.92,1)" >27271.5</text>
<text transform="translate(1623,348) scale(0.92,1)" >26710.5</text>
<text transform="translate(1623,381) scale(0.92,1)" >26421.5</text>
<text transform="translate(1623,414) scale(0.92,1)" >26141.0</text>
<text transform="translate(1623,447) scale(0.92,1)" >25852.0</text>
<text transform="translate(1623,480) scale(0.92,1)" >25571.5</text>
<text transform="translate(1623,513) scale(0.92,1)" >25282.5</text>
<text transform="translate(1623,546) scale(0.92,1)" >25002.0</text>
<text transform="translate(1623,579) scale(0.92,1)" >24721.5</text>
</g>
<rect x="1619" y="286" width="41" height="11" fill="#ff0000"/>
<rect x="1619" y="305" width="41" height="11" fill="#ff0000"/>
<rect x="1619" y="327" width="41" height="11" fill="#32cd32"/>
<rect x="1619" y="342" width="41" height="11" fill="#000000"/>
<rect x="1619" y="361" width="41" height="11" fill="#0000ff"/>
<rect x="1619" y="391" width="41" height="11" fill="#0000ff"/>
<g shape-rendering="auto" text-rendering="geometricPrecision" font-family="Liberation Sans, sans-serif" font-size="10px" fill="#000" stroke="#000" stroke-width="0.2">
<text transform="translate(1623,295) scale(0.92,1)" fill="#fff" stroke="#fff">27151.9</text>
<text transform="translate(1623,314) scale(0.92,1)" fill="#fff" stroke="#fff">26988.7</text>
<text transform="translate(1623,336) scale(0.92,1)" fill="#fff" stroke="#fff">26799.8</text>
<text transform="translate(1623,351) scale(0.92,1)" fill="#fff" stroke="#fff">26679.0</text>
<text transform="translate(1623,370) scale(0.92,1)" fill="#fff" stroke="#fff">26507.8</text>
<text transform="translate(1623,400) scale(0.92,1)" fill="#fff" stroke="#fff">26252.1</text>
<text transform="translate(1621,591) scale(0.92,1)" >509.12</text>
<text transform="translate(1623,649) scale(0.92,1)" >0.00</text>
<text transform="translate(1620,747) scale(0.92,1)" >-844.12</text>
<text transform="translate(1622,763) scale(0.92,1)" >100</text>
<text transform="translate(1620,792) scale(0.92,1)" >80</text>
<text transform="translate(1620,843) scale(0.92,1)" >50</text>
<text transform="translate(1620,904) scale(0.92,1)" >15</text>
<text transform="translate(1622,921) scale(0.92,1)" >0</text>
<text transform="translate(-3,938.7) scale(0.925,1)" >26 Jun 2019</text>
<text transform="translate(61,938.7) scale(0.925,1)" >9 Jul 2019</text>
<text transform="translate(125,938.7) scale(0.925,1)" >19 Jul 2019</text>
<text transform="translate(189,938.7) scale(0.925,1)" >31 Jul 2019</text>
<text transform="translate(253,938.7) scale(0.925,1)" >12 Aug 2019</text>
<text transform="translate(317,938.7) scale(0.925,1)" >22 Aug 2019</text>
<text transform="translate(381,938.7) scale(0.925,1)" >3 Sep 2019</text>
<text transform="translate(445,938.7) scale(0.925,1)" >13 Sep 2019</text>
<text transform="translate(509,938.7) scale(0.925,1)" >25 Sep 2019</text>
<text transform="translate(573,938.7) scale(0.925,1)" >9 Oct 2019</text>
<text transform="translate(637,938.7) scale(0.925,1)" >21 Oct 2019</text>
<text transform="translate(701,938.7) scale(0.925,1)" >31 Oct 2019</text>
<text transform="translate(765,938.7) scale(0.925,1)" >12 Nov 2019</text>
<text transform="translate(829,938.7) scale(0.925,1)" >22 Nov 2019</text>
<text transform="translate(893,938.7) scale(0.925,1)" >4 Dec 2019</text>
<text transform="translate(957,938.7) scale(0.925,1)" >16 Dec 2019</text>
<text transform="translate(1021,938.7) scale(0.925,1)" >30 Dec 2019</text>
<text transform="translate(1085,938.7) scale(0.925,1)" >10 Jan 2020</text>
<text transform="translate(1149,938.7) scale(0.925,1)" >22 Jan 2020</text>
<text transform="translate(1213,938.7) scale(0.925,1)" >5 Feb 2020</text>
<text transform="translate(1277,938.7) scale(0.925,1)" >17 Feb 2020</text>
<text transform="translate(1341,938.7) scale(0.925,1)" >27 Feb 2020</text>
<text transform="translate(3,593) scale(0.935,1)" >MACD(12,26,9) -230.20 -115.86</text>
<text transform="translate(3,765) scale(0.935,1)" >RSI(14) 40.2952</text>
</g>
<g shape-rendering="auto" font-family="Liberation Sans, sans-serif">
<text transform="translate(1402.6,342) scale(0.86,1)" font-size="23px" fill="#ff0000">26799.8</text>
<text x="1398.6 1431.55 1464.5 1497.45 1530.4" y="391.2" font-family="'Liberation Serif','Noto Serif CJK SC',serif" font-weight="bold" font-size="30.7px" fill="#032003">多空转折点</text>
<text x="1397.6 1430.55 1463.5 1496.45 1529.4" y="390.2" font-family="'Liberation Serif','Noto Serif CJK SC',serif" font-weight="bold" font-size="30.7px" fill="#00ff00">多空转折点</text>
</g>
<defs><linearGradient id="gt" x1="0" y1="0" x2="0" y2="1"><stop offset="0" stop-color="#f25656"/><stop offset="1" stop-color="#e03434"/></linearGradient><linearGradient id="gb" x1="0" y1="0" x2="0" y2="1"><stop offset="0" stop-color="#dc3030"/><stop offset="0.55" stop-color="#c81818"/><stop offset="1" stop-color="#b00000"/></linearGradient><linearGradient id="gs" x1="0" y1="0" x2="0" y2="1"><stop offset="0" stop-color="#f4f4f4"/><stop offset="0.5" stop-color="#dcdcdc"/><stop offset="1" stop-color="#cfcfcf"/></linearGradient></defs>
<rect x="0" y="43" width="221" height="66" fill="#fff"/>
<rect x="1" y="45" width="52" height="24" fill="url(#gt)"/><rect x="168" y="45" width="52" height="24" fill="url(#gt)"/>
<rect x="1" y="45" width="52" height="1" fill="#d83030"/><rect x="168" y="45" width="52" height="1" fill="#d83030"/>
<rect x="1" y="69" width="109" height="40" fill="url(#gb)"/><rect x="112" y="69" width="108" height="40" fill="url(#gb)"/>
<rect x="5" y="68" width="44" height="1" fill="#a81010"/><rect x="172" y="68" width="44" height="1" fill="#a81010"/>
<rect x="55.5" y="45.5" width="110" height="21" fill="#fff" stroke="#b8b8b8"/>
<rect x="57" y="47" width="19" height="18" fill="url(#gs)" stroke="#c8c8c8" stroke-width="1"/><rect x="145" y="47" width="19" height="18" fill="url(#gs)" stroke="#c8c8c8" stroke-width="1"/>
<polygon points="63,54 69,54 66,57.5" fill="#4a5ec8" shape-rendering="auto"/><polygon points="151.5,57.5 157.5,57.5 154.5,54" fill="#4a5ec8" shape-rendering="auto"/>
<g shape-rendering="auto" font-family="Liberation Sans, sans-serif" fill="#fff">
<text transform="translate(13.2,61) scale(0.85,1)" font-size="12.5px">SELL</text>
<text transform="translate(181.2,61) scale(0.9,1)" font-size="12.5px">BUY</text>
<text transform="translate(117.5,60) scale(0.92,1)" font-size="13px" fill="#000">1.00</text>
<text transform="translate(16.8,100) scale(0.99,1)" font-size="12.5px" font-weight="bold">26677</text>
<text transform="translate(126.8,100) scale(1.0,1)" font-size="12.5px" font-weight="bold">26693</text>
<text transform="translate(55.6,100) scale(0.78,1)" font-size="34px">.</text><text transform="translate(64.3,100) scale(0.79,1)" font-size="34.5px">5</text>
<text transform="translate(166.2,100) scale(0.78,1)" font-size="34px">.</text><text transform="translate(174.8,100) scale(0.79,1)" font-size="34.5px">5</text>
</g>
<polygon points="1,37 9,37 5,32" fill="#000" shape-rendering="auto"/>
<g shape-rendering="auto" font-family="Liberation Sans, sans-serif" font-size="10.5px" fill="#000"><text transform="translate(13,37.1) scale(0.89,1)">HK50-,Daily&#160;&#160;26367.0 26839.0 26339.0 26679.0</text></g>
<rect x="0" y="0" width="1664" height="21" fill="#f0f0f0"/>
<rect x="0" y="20" width="1664" height="1" fill="#f8f8f8"/><rect x="0" y="21" width="1664" height="1" fill="#a0a0a0"/><rect x="0" y="22" width="1664" height="1" fill="#696969"/><rect x="0" y="23" width="1664" height="2" fill="#fff"/>
<g shape-rendering="auto">
<rect x="-1" y="11.5" width="4.5" height="3.2" fill="#2eb82e" stroke="#157a15" stroke-width="0.8"/>
<text x="6.6 18.6 30.6" y="12.5" font-family="'Liberation Sans','Noto Sans CJK SC',sans-serif" font-size="12.3px" fill="#000" stroke="#000" stroke-width="0.2">新订单</text>
<g><polygon points="55,11 62.5,3.2 71,9.6 64,17.2" fill="#8a5f08"/><polygon points="55,10.2 62.5,2.6 71,8.8 64,16" fill="#eab530" stroke="#a6780e" stroke-width="0.7"/><polygon points="57.2,10 62.6,4.4 68.6,8.8 63.6,13.8" fill="#f6d46a" opacity="0.85"/><path d="M55.6,11.4 L63.8,16.9 L70.6,10" stroke="#fff2c0" stroke-width="0.7" fill="none" opacity="0.9"/></g>
<g><polygon points="86.5,2 91,1 91,12.5 86.5,12" fill="#2f7fd8"/><rect x="91" y="1" width="6.5" height="11.5" fill="#9fd0ff" stroke="#2f7fd8" stroke-width="0.8"/><rect x="92.2" y="3" width="4.2" height="1.2" fill="#fff"/><rect x="92.2" y="5.2" width="4.2" height="1.2" fill="#2f7fd8"/>
<path d="M85.5,16.3 a2.6,2.6 0 0 1 0.6,-5.1 a3.2,3.2 0 0 1 6,-0.9 a2.6,2.6 0 0 1 4.4,1.6 a2.3,2.3 0 0 1 -0.5,4.4 z" fill="#eef4fc" stroke="#6d8fc0" stroke-width="0.9"/></g>
<g fill="none"><circle cx="118.8" cy="9" r="7.1" stroke="#a9c3ec" stroke-width="1.3"/><path d="M125.9,9 a7.1,7.1 0 0 1 -7.1,7.1" stroke="#4aa84a" stroke-width="1.6"/><circle cx="118.8" cy="9" r="4.3" stroke="#86a6e2" stroke-width="1.2"/><path d="M123.1,9 a4.3,4.3 0 0 1 -2,3.6" stroke="#5ab05a" stroke-width="1.2"/><circle cx="118.8" cy="8.8" r="1.9" fill="#2a5fd0"/><line x1="119.4" y1="9.5" x2="119.4" y2="16" stroke="#3a9a3a" stroke-width="1.4"/></g>
<g><path d="M139.5,8.5 q6.5,-3 15,-1 q-1,7.5 -6.5,9 q-6,-1 -8.5,-8 z" fill="#f2cf3e" stroke="#c9a21c" stroke-width="0.7"/><ellipse cx="146.5" cy="6" rx="8.3" ry="2.6" fill="#5b9be0" stroke="#3a74c0" stroke-width="0.6"/><path d="M142,5.6 q0.5,-4.4 4.6,-4.4 q4,0 4.6,4.4 z" fill="#7ab2ec" stroke="#3a74c0" stroke-width="0.6"/><circle cx="150.8" cy="12.8" r="3.9" fill="#e02020" stroke="#fff" stroke-width="0.5"/><rect x="149.3" y="11.3" width="3" height="3" fill="#fff"/></g>
<text x="159 170.8 182.6 194.4" y="12.5" font-family="'Liberation Sans','Noto Sans CJK SC',sans-serif" font-size="12.3px" fill="#000" stroke="#000" stroke-width="0.2">自动交易</text>
<rect x="214" y="1" width="1" height="18" fill="#a0a0a0" shape-rendering="crispEdges"/>
<g shape-rendering="crispEdges"><rect x="218" y="2" width="3" height="1" fill="#b4b4b4"/><rect x="218" y="4" width="3" height="1" fill="#b4b4b4"/><rect x="218" y="6" width="3" height="1" fill="#b4b4b4"/><rect x="218" y="8" width="3" height="1" fill="#b4b4b4"/><rect x="218" y="10" width="3" height="1" fill="#b4b4b4"/><rect x="218" y="12" width="3" height="1" fill="#b4b4b4"/><rect x="218" y="14" width="3" height="1" fill="#b4b4b4"/><rect x="218" y="16" width="3" height="1" fill="#b4b4b4"/></g>
<g stroke="#444" stroke-width="1" fill="none" shape-rendering="crispEdges"><line x1="232.5" y1="4" x2="232.5" y2="17"/><line x1="230" y1="14.5" x2="243" y2="14.5"/></g>
<polygon points="232.5,3 230.7,6 234.3,6" fill="#444"/><polygon points="244.5,14.5 241.5,12.7 241.5,16.3" fill="#444"/>
<g stroke="#1e8c1e" stroke-width="1.3" fill="none" shape-rendering="crispEdges"><line x1="239.5" y1="4" x2="239.5" y2="12"/><line x1="239.5" y1="5.5" x2="242" y2="5.5"/><line x1="237" y1="11.5" x2="239.5" y2="11.5"/></g>
<rect x="252" y="1" width="1" height="18" fill="#a0a0a0" shape-rendering="crispEdges"/>
<rect x="253" y="0" width="24.5" height="20" fill="#f8f8f8"/>
<g stroke="#444" stroke-width="1" fill="none" shape-rendering="crispEdges"><line x1="260.5" y1="4" x2="260.5" y2="17"/><line x1="258" y1="14.5" x2="271" y2="14.5"/></g>
<polygon points="260.5,3 258.7,6 262.3,6" fill="#444"/><polygon points="272.5,14.5 269.5,12.7 269.5,16.3" fill="#444"/>
<g shape-rendering="crispEdges"><line x1="266.5" y1="1" x2="266.5" y2="13" stroke="#1e7a1e" stroke-width="1"/><rect x="264.5" y="3.5" width="4" height="7" fill="#22cc22" stroke="#1e7a1e" stroke-width="1"/></g>
<g stroke="#444" stroke-width="1" fill="none" shape-rendering="crispEdges"><line x1="288.5" y1="4" x2="288.5" y2="17"/><line x1="286" y1="14.5" x2="299" y2="14.5"/></g>
<polygon points="288.5,3 286.7,6 290.3,6" fill="#444"/><polygon points="300.5,14.5 297.5,12.7 297.5,16.3" fill="#444"/>
<path d="M287.5,12 q4,-8 7,-5.5 q2,1.5 4.5,4" stroke="#1e8c1e" stroke-width="1.1" fill="none"/>
<rect x="309" y="1" width="1" height="18" fill="#a0a0a0" shape-rendering="crispEdges"/>
<line x1="327" y1="10.5" x2="331.5" y2="15.5" stroke="#c9a227" stroke-width="2.6" stroke-linecap="round"/>
<line x1="327" y1="10.5" x2="331.5" y2="15.5" stroke="#f0d060" stroke-width="1" stroke-linecap="round"/>
<circle cx="323.5" cy="7" r="5.2" fill="#dcecfc" stroke="#3f87d6" stroke-width="1.4"/>
<line x1="320.7" y1="7" x2="326.3" y2="7" stroke="#2a6cc4" stroke-width="1.5"/>
<line x1="323.5" y1="4.2" x2="323.5" y2="9.8" stroke="#2a6cc4" stroke-width="1.5"/>
<line x1="355" y1="10.5" x2="359.5" y2="15.5" stroke="#c9a227" stroke-width="2.6" stroke-linecap="round"/>
<line x1="355" y1="10.5" x2="359.5" y2="15.5" stroke="#f0d060" stroke-width="1" stroke-linecap="round"/>
<circle cx="351.5" cy="7" r="5.2" fill="#dcecfc" stroke="#3f87d6" stroke-width="1.4"/>
<line x1="348.7" y1="7" x2="354.3" y2="7" stroke="#2a6cc4" stroke-width="1.5"/>
<rect x="374" y="1.2" width="7.6" height="7.6" fill="#44a436"/><rect x="374" y="1.2" width="7.6" height="2.4" fill="#2e8a22"/><rect x="375.3" y="4.8" width="5" height="2.6" fill="#fff" opacity="0.9"/>
<rect x="382.2" y="1.2" width="7.6" height="7.6" fill="#2a5ed0"/><rect x="382.2" y="1.2" width="7.6" height="2.4" fill="#1a44b0"/><rect x="383.5" y="4.8" width="5" height="2.6" fill="#fff" opacity="0.9"/>
<rect x="374" y="9.4" width="7.6" height="7.6" fill="#2a5ed0"/><rect x="374" y="9.4" width="7.6" height="2.4" fill="#1a44b0"/><rect x="375.3" y="13" width="5" height="2.6" fill="#fff" opacity="0.9"/>
<rect x="382.2" y="9.4" width="7.6" height="7.6" fill="#44a436"/><rect x="382.2" y="9.4" width="7.6" height="2.4" fill="#2e8a22"/><rect x="383.5" y="13" width="5" height="2.6" fill="#fff" opacity="0.9"/>
<rect x="399" y="1" width="1" height="18" fill="#a0a0a0" shape-rendering="crispEdges"/>
<rect x="404" y="1" width="1" height="18" fill="#a0a0a0" shape-rendering="crispEdges"/>
<rect x="405" y="0" width="23.5" height="20" fill="#f8f8f8"/>
<g stroke="#444" stroke-width="1" fill="none" shape-rendering="crispEdges"><line x1="412.5" y1="4" x2="412.5" y2="17"/><line x1="410" y1="14.5" x2="423" y2="14.5"/></g>
<polygon points="412.5,3 410.7,6 414.3,6" fill="#444"/><polygon points="424.5,14.5 421.5,12.7 421.5,16.3" fill="#444"/>
<polygon points="417,6 417,11.5 421.5,8.75" fill="#28b428" stroke="#1a7a1a" stroke-width="0.5"/>
<rect x="432" y="1" width="1" height="18" fill="#a0a0a0" shape-rendering="crispEdges"/>
<rect x="433" y="0" width="23.6" height="20" fill="#f8f8f8"/>
<g stroke="#444" stroke-width="1" fill="none" shape-rendering="crispEdges"><line x1="440.5" y1="4" x2="440.5" y2="17"/><line x1="438" y1="14.5" x2="451" y2="14.5"/></g>
<polygon points="440.5,3 438.7,6 442.3,6" fill="#444"/><polygon points="452.5,14.5 449.5,12.7 449.5,16.3" fill="#444"/>
<line x1="446.5" y1="3" x2="446.5" y2="13" stroke="#2a6ab0" stroke-width="1.1" shape-rendering="crispEdges"/><polygon points="447.5,8.5 451,6.3 451,10.7" fill="#d04818"/><line x1="449" y1="8.5" x2="452.5" y2="8.5" stroke="#d04818" stroke-width="1"/>
<rect x="461" y="1" width="1" height="18" fill="#a0a0a0" shape-rendering="crispEdges"/>
<path d="M471.5,2 h6.5 l3,3 v9.5 h-9.5 z" fill="#f8f8f8" stroke="#8a8a8a" stroke-width="0.8"/><path d="M478,2 v3 h3" fill="#e0e0e0" stroke="#8a8a8a" stroke-width="0.6"/><text x="473.2" y="11.5" font-family="Liberation Serif, serif" font-style="italic" font-size="8px" fill="#555">f</text>
<path d="M479.3,7.5 h3.4 v3.4 h3.4 v3.4 h-3.4 v3.4 h-3.4 v-3.4 h-3.4 v-3.4 h3.4 z" fill="#22c022" stroke="#128a12" stroke-width="0.8"/>
<polygon points="493,8 498.5,8 495.75,11" fill="#000"/>
<circle cx="517" cy="9" r="7.4" fill="#2a6fd6" stroke="#1a50b0" stroke-width="0.8"/><circle cx="517" cy="9" r="5.2" fill="#f4f8ff"/><path d="M517,5.2 V9 H520" stroke="#444" stroke-width="1.1" fill="none"/><circle cx="517" cy="13" r="0.5" fill="#888"/><circle cx="513" cy="9" r="0.5" fill="#888"/>
<polygon points="531.7,8 537.2,8 534.45,11" fill="#000"/>
<rect x="548.4" y="2.2" width="15.4" height="13.4" fill="#f4f8ff" stroke="#3a74c8" stroke-width="1"/><rect x="548.4" y="2.2" width="15.4" height="1.6" fill="#3a74c8"/><line x1="548.4" y1="9.2" x2="563.8" y2="9.2" stroke="#3a74c8" stroke-width="0.8"/><path d="M550,7.6 l2.5,-1 l2.5,0.2 l2.4,-1.2 l2.4,0.4 l2.4,-1.2" stroke="#b03010" stroke-width="1.1" fill="none"/><path d="M550,13.6 l2.5,-1.4 l2.4,0.8 l2.4,-1.6 l2.4,1.2 l2.4,-1" stroke="#28a028" stroke-width="1.1" fill="none"/>
<polygon points="570.9,8 576.4,8 573.65,11" fill="#000"/>
<rect x="582" y="1" width="1" height="18" fill="#a0a0a0" shape-rendering="crispEdges"/>
<g shape-rendering="crispEdges"><rect x="586" y="2" width="3" height="1" fill="#b4b4b4"/><rect x="586" y="4" width="3" height="1" fill="#b4b4b4"/><rect x="586" y="6" width="3" height="1" fill="#b4b4b4"/><rect x="586" y="8" width="3" height="1" fill="#b4b4b4"/><rect x="586" y="10" width="3" height="1" fill="#b4b4b4"/><rect x="586" y="12" width="3" height="1" fill="#b4b4b4"/><rect x="586" y="14" width="3" height="1" fill="#b4b4b4"/><rect x="586" y="16" width="3" height="1" fill="#b4b4b4"/></g>
<rect x="592" y="1" width="1" height="18" fill="#a0a0a0" shape-rendering="crispEdges"/>
<rect x="593" y="0" width="24.3" height="20" fill="#f8f8f8"/>
<path d="M600.5,2.6 v11.6 l2.7,-2.6 l2,4.6 l1.8,-0.8 l-2,-4.5 h3.8 z" fill="#444"/>
<g stroke="#444" stroke-width="1" shape-rendering="crispEdges"><line x1="632.5" y1="2" x2="632.5" y2="8"/><line x1="632.5" y1="11" x2="632.5" y2="17"/><line x1="625" y1="9.5" x2="631" y2="9.5"/><line x1="634" y1="9.5" x2="640" y2="9.5"/></g>
<rect x="649" y="1" width="1" height="18" fill="#a0a0a0" shape-rendering="crispEdges"/>
<line x1="666.5" y1="3" x2="666.5" y2="16" stroke="#444" stroke-width="1" shape-rendering="crispEdges"/>
<line x1="689" y1="9.5" x2="701" y2="9.5" stroke="#444" stroke-width="1" shape-rendering="crispEdges"/>
<line x1="716.5" y1="16" x2="729" y2="4" stroke="#444" stroke-width="1"/>
<g stroke="#444" stroke-width="0.9"><line x1="743" y1="11" x2="754" y2="3"/><line x1="745" y1="15.5" x2="757" y2="7"/><line x1="744" y1="13.2" x2="755.5" y2="5"/><line x1="746.5" y1="7" x2="745" y2="15"/><line x1="749.5" y1="5" x2="748" y2="14"/><line x1="752.5" y1="3" x2="751" y2="12"/><line x1="755" y1="1" x2="754" y2="9"/></g>
<text x="753.6" y="17.6" font-family="Liberation Sans, sans-serif" font-weight="bold" font-size="6.5px" fill="#333">E</text>
<g stroke="#444" stroke-width="1" stroke-dasharray="1,1" shape-rendering="crispEdges"><line x1="771.5" y1="2.5" x2="785" y2="2.5"/><line x1="771.5" y1="5" x2="785" y2="5"/><line x1="771.5" y1="9" x2="785" y2="9"/><line x1="771.5" y1="11" x2="785" y2="11"/><line x1="771.5" y1="14" x2="785" y2="14"/></g>
<rect x="780.5" y="12" width="6" height="6" fill="#f0f0f0"/><text x="781.2" y="17.6" font-family="Liberation Sans, sans-serif" font-weight="bold" font-size="6.5px" fill="#333">F</text>
<text x="802" y="13.8" font-family="Liberation Sans, sans-serif" font-size="12.5px" fill="#444">A</text>
<rect x="828.5" y="3.5" width="12" height="12" fill="none" stroke="#666" stroke-width="1" stroke-dasharray="1,1" shape-rendering="crispEdges"/><text x="830.4" y="14" font-family="Liberation Sans, sans-serif" font-weight="bold" font-size="11.5px" fill="#444">T</text>
<g fill="#333"><polygon points="859,3.5 862.5,7 855.5,7"/><polygon points="866.5,15.5 870,12 863,12"/><path d="M857.5,9 l2.6,2.8 l4.6,-5" stroke="#333" stroke-width="1.4" fill="none"/><polygon points="861,10 864.5,13.5 868,10" opacity="0"/></g>
<polygon points="876.8,8 882.3,8 879.55,11" fill="#000"/>
<rect x="888" y="1" width="1" height="18" fill="#a0a0a0" shape-rendering="crispEdges"/>
<g shape-rendering="crispEdges"><rect x="892" y="2" width="3" height="1" fill="#b4b4b4"/><rect x="892" y="4" width="3" height="1" fill="#b4b4b4"/><rect x="892" y="6" width="3" height="1" fill="#b4b4b4"/><rect x="892" y="8" width="3" height="1" fill="#b4b4b4"/><rect x="892" y="10" width="3" height="1" fill="#b4b4b4"/><rect x="892" y="12" width="3" height="1" fill="#b4b4b4"/><rect x="892" y="14" width="3" height="1" fill="#b4b4b4"/><rect x="892" y="16" width="3" height="1" fill="#b4b4b4"/></g>
<g font-family="Liberation Sans, sans-serif" font-size="9.6px" fill="#404040">
<text x="903.3" y="12.6">M1</text>
<text x="931.5" y="12.6">M5</text>
<text x="957.4" y="12.6">M15</text>
<text x="985.3" y="12.6">M30</text>
<text x="1016.5" y="12.6">H1</text>
<text x="1043.3" y="12.6">H4</text>
</g>
<rect x="1066" y="1" width="1" height="18" fill="#a0a0a0" shape-rendering="crispEdges"/>
<rect x="1067" y="0" width="24" height="20" fill="#f8f8f8"/>
<g font-family="Liberation Sans, sans-serif" font-size="9.6px" fill="#404040"><text x="1072.5" y="12.6">D1</text><text x="1100" y="12.6">W1</text><text x="1126.7" y="12.6">MN</text></g>
<rect x="1149" y="0" width="1" height="21" fill="#a0a0a0" shape-rendering="crispEdges"/>
<circle cx="1619.5" cy="6.5" r="3.9" fill="#fff" stroke="#2a5fd0" stroke-width="1.5"/><line x1="1616.6" y1="9.6" x2="1612" y2="14" stroke="#2a5fd0" stroke-width="2.2" stroke-linecap="round"/>
<defs><linearGradient id="cb" x1="0" y1="0" x2="0" y2="1"><stop offset="0" stop-color="#ffffff"/><stop offset="1" stop-color="#c8c8d4"/></linearGradient></defs>
<path d="M1646.2,6.6 a6.4,5.2 0 1 1 9.2,4.6 l0.3,2.4 l-2.8,-1.9 a6.4,5.2 0 0 1 -6.7,-5.1 z" fill="url(#cb)" stroke="#6e6e78" stroke-width="0.9"/>
<path d="M1638.4,10.6 a4.8,3.9 0 1 1 4.2,3.9 l-2.2,1.9 l0.3,-2.4 a4.8,3.9 0 0 1 -2.3,-3.4 z" fill="url(#cb)" stroke="#6e6e78" stroke-width="0.9"/>
</g>
<rect x="1663" y="22" width="1" height="923" fill="#e3e3e3"/>
</svg>
</body></html>
